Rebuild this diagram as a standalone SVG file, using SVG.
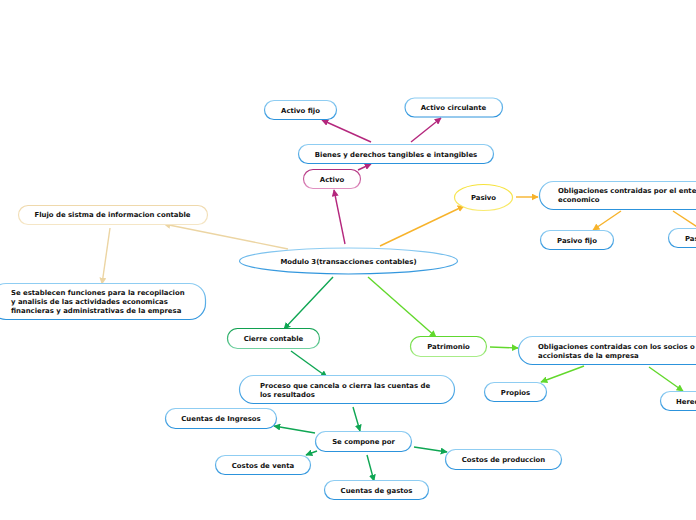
<svg xmlns="http://www.w3.org/2000/svg" width="696" height="520" viewBox="0 0 696 520">
<defs>
<linearGradient id="gb" x1="0" y1="0" x2="0" y2="1"><stop offset="0" stop-color="#8fcdf2"/><stop offset="1" stop-color="#2c93dc"/></linearGradient>
<linearGradient id="gm" x1="0" y1="0" x2="0" y2="1"><stop offset="0" stop-color="#b02c7c"/><stop offset="1" stop-color="#e090c0"/></linearGradient>
<linearGradient id="gg" x1="0" y1="0" x2="0" y2="1"><stop offset="0" stop-color="#10a050"/><stop offset="1" stop-color="#70d0a0"/></linearGradient>
<linearGradient id="gl" x1="0" y1="0" x2="0" y2="1"><stop offset="0" stop-color="#60d830"/><stop offset="1" stop-color="#a8ec88"/></linearGradient>
<linearGradient id="gy" x1="0" y1="0" x2="0" y2="1"><stop offset="0" stop-color="#f6e23a"/><stop offset="1" stop-color="#f8ea70"/></linearGradient>
<linearGradient id="gw" x1="0" y1="0" x2="0" y2="1"><stop offset="0" stop-color="#efd9ac"/><stop offset="1" stop-color="#f5e6c6"/></linearGradient>
<marker id="am" viewBox="0 0 10 10" refX="9" refY="5" markerWidth="7" markerHeight="7" markerUnits="userSpaceOnUse" orient="auto"><path d="M0,0 L10,5 L0,10 z" fill="#b4277d"/></marker>
<marker id="ao" viewBox="0 0 10 10" refX="9" refY="5" markerWidth="7" markerHeight="7" markerUnits="userSpaceOnUse" orient="auto"><path d="M0,0 L10,5 L0,10 z" fill="#f7b32b"/></marker>
<marker id="aw" viewBox="0 0 10 10" refX="9" refY="5" markerWidth="7" markerHeight="7" markerUnits="userSpaceOnUse" orient="auto"><path d="M0,0 L10,5 L0,10 z" fill="#ecd5a3"/></marker>
<marker id="ag" viewBox="0 0 10 10" refX="9" refY="5" markerWidth="7" markerHeight="7" markerUnits="userSpaceOnUse" orient="auto"><path d="M0,0 L10,5 L0,10 z" fill="#0fa653"/></marker>
<marker id="al" viewBox="0 0 10 10" refX="9" refY="5" markerWidth="7" markerHeight="7" markerUnits="userSpaceOnUse" orient="auto"><path d="M0,0 L10,5 L0,10 z" fill="#62d82c"/></marker>
</defs>
<style>
text{font-family:"DejaVu Sans",Verdana,sans-serif;font-weight:bold;font-size:6.9px;fill:#111}
.c{text-anchor:middle}
.n{fill:#fff;stroke-width:1.2}
.b{stroke:url(#gb)}
.m{stroke:url(#gm)}
.g{stroke:url(#gg)}
.l{stroke:url(#gl)}
.y{stroke:url(#gy)}
.w{stroke:url(#gw)}
#connectors path{fill:none;stroke-width:1.4}
.cm{stroke:#b4277d;marker-end:url(#am)}
.co{stroke:#f7b32b;marker-end:url(#ao)}
.cw{stroke:#ecd5a3;marker-end:url(#aw)}
.cg{stroke:#0fa653;marker-end:url(#ag)}
.cl{stroke:#62d82c;marker-end:url(#al)}
</style>
<rect width="696" height="520" fill="#fff"/>
<g id="connectors">
<path class="cm" d="M345,244 L334,190"/>
<path class="cm" d="M358,170 L371,164"/>
<path class="cm" d="M371,142 L322,120"/>
<path class="cm" d="M411,142 L441,118"/>
<path class="co" d="M380,246 L464,206"/>
<path class="co" d="M516,197 L538,197"/>
<path class="co" d="M621,211 L593,230"/>
<path class="co" d="M673,211 L705,232"/>
<path class="cw" d="M288,249 L164,224"/>
<path class="cw" d="M110,228 L102,284"/>
<path class="cg" d="M333,277 L284,329"/>
<path class="cg" d="M291,351 L327,377"/>
<path class="cg" d="M353,407 L360,431"/>
<path class="cg" d="M315,433 L274,426"/>
<path class="cg" d="M317,451 L306,455"/>
<path class="cg" d="M414,447 L447,452"/>
<path class="cg" d="M367,455 L374,481"/>
<path class="cl" d="M368,277 L436,337"/>
<path class="cl" d="M490,347 L518,348"/>
<path class="cl" d="M584,366 L541,382"/>
<path class="cl" d="M649,367 L683,391"/>
</g>
<g id="modulo"><ellipse class="n b" cx="348.5" cy="261" rx="109" ry="13"/><text class="c" x="348.5" y="263.5">Modulo 3(transacciones contables)</text></g>
<g id="activo"><rect class="n m" x="303.5" y="169.5" width="57" height="19" rx="9.5"/><text class="c" x="332" y="181.5">Activo</text></g>
<g id="bienes"><rect class="n b" x="298.5" y="144.5" width="195" height="19" rx="9.5"/><text class="c" x="396" y="156.5">Bienes y derechos tangibles e intangibles</text></g>
<g id="activo-fijo"><rect class="n b" x="264.5" y="100.5" width="72" height="19" rx="9.5"/><text class="c" x="300.5" y="112.5">Activo fijo</text></g>
<g id="activo-circulante"><rect class="n b" x="405" y="98" width="97.5" height="19" rx="9.5"/><text class="c" x="453.5" y="110">Activo circulante</text></g>
<g id="pasivo"><ellipse class="n y" cx="483.5" cy="197.5" rx="29" ry="13"/><text class="c" x="483.5" y="200">Pasivo</text></g>
<g id="oblig-ente"><rect class="n b" x="539.5" y="181.5" width="175" height="28" rx="14"/><text x="558" y="193">Obligaciones contraidas por el ente</text><text x="558" y="202">economico</text></g>
<g id="pasivo-fijo"><rect class="n b" x="540.5" y="230.5" width="73" height="19" rx="9.5"/><text class="c" x="577" y="242.5">Pasivo fijo</text></g>
<g id="pasivo-circ"><rect class="n b" x="668.5" y="228.5" width="80" height="19" rx="9.5"/><text x="685" y="240.5">Pasivo circulante</text></g>
<g id="flujo"><rect class="n w" x="18.5" y="205.5" width="189" height="19" rx="9.5"/><text class="c" x="112.5" y="217">Flujo de sistma de informacion contable</text></g>
<g id="se-establecen"><rect class="n b" x="-10" y="283.5" width="215.5" height="36" rx="16"/><text x="11" y="295">Se establecen funciones para la recopilacion</text><text x="11" y="304">y analisis de las actividades economicas</text><text x="11" y="313">financieras y administrativas de la empresa</text></g>
<g id="cierre"><rect class="n g" x="227.5" y="328.5" width="92" height="20" rx="10"/><text class="c" x="273.5" y="340.8">Cierre contable</text></g>
<g id="proceso"><rect class="n b" x="239.5" y="375.5" width="215" height="28" rx="14"/><text x="260" y="387.5">Proceso que cancela o cierra las cuentas de</text><text x="260" y="396.5">los resultados</text></g>
<g id="se-compone"><rect class="n b" x="315.5" y="431.5" width="96" height="20" rx="10"/><text class="c" x="363.5" y="443.7">Se compone por</text></g>
<g id="cuentas-ingresos"><rect class="n b" x="165.5" y="408.5" width="111" height="20" rx="10"/><text class="c" x="221" y="420.7">Cuentas de Ingresos</text></g>
<g id="costos-venta"><rect class="n b" x="215.5" y="455.5" width="95" height="19" rx="9.5"/><text class="c" x="263" y="467.5">Costos de venta</text></g>
<g id="costos-produccion"><rect class="n b" x="445.5" y="449.5" width="116" height="20" rx="10"/><text class="c" x="503.5" y="461.7">Costos de produccion</text></g>
<g id="cuentas-gastos"><rect class="n b" x="324.5" y="480.5" width="104" height="19" rx="9.5"/><text class="c" x="376.5" y="492.5">Cuentas de gastos</text></g>
<g id="patrimonio"><rect class="n l" x="410.5" y="336.5" width="76" height="20" rx="10"/><text class="c" x="448.5" y="348.7">Patrimonio</text></g>
<g id="oblig-socios"><rect class="n b" x="518.5" y="336.5" width="200" height="28" rx="14"/><text x="538" y="348.5">Obligaciones contraidas con los socios o</text><text x="538" y="357.5">accionistas de la empresa</text></g>
<g id="propios"><rect class="n b" x="484.5" y="382.5" width="62" height="19" rx="9.5"/><text class="c" x="515.5" y="394.5">Propios</text></g>
<g id="heredados"><rect class="n b" x="660.5" y="391.5" width="80" height="19" rx="9.5"/><text x="676" y="403.5">Heredados</text></g>
</svg>
